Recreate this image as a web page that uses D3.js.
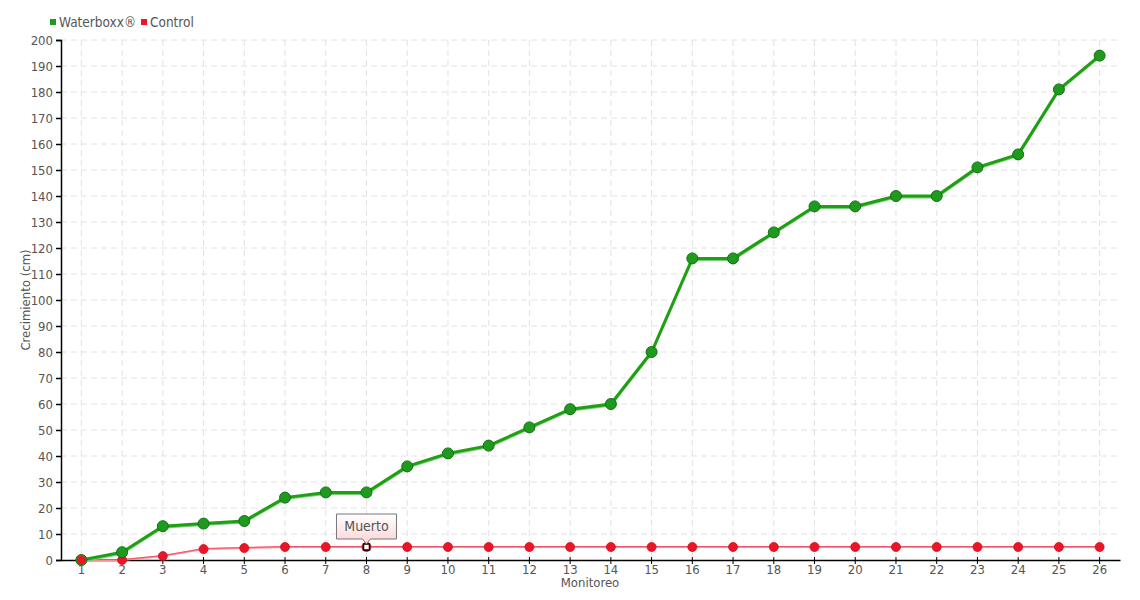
<!DOCTYPE html>
<html><head><meta charset="utf-8">
<script src="https://cdn.jsdelivr.net/npm/d3@7/dist/d3.min.js"></script>
<style>body{margin:0;background:#fff;}svg{display:block;}text{font-family:'DejaVu Sans Condensed','DejaVu Sans',sans-serif;font-stretch:condensed;fill:#555;}</style>
</head><body><svg id="c" width="1140" height="600"></svg>
<script>
const categories = ["1","2","3","4","5","6","7","8","9","10","11","12","13","14","15","16","17","18","19","20","21","22","23","24","25","26"];
const waterboxx = [0,3,13,14,15,24,26,26,36,41,44,51,58,60,80,116,116,126,136,136,140,140,151,156,181,194];
const control = [0,0,1.5,4.2,4.6,5,5,5,5,5,5,5,5,5,5,5,5,5,5,5,5,5,5,5,5,5];
const yTicks = d3.range(0,201,10);
const seriesNames = ["Waterboxx®","Control"];

const svg = d3.select("#c");
const L=61, R=1120, T=40, B=560;
const x = d3.scaleBand().domain(categories).range([L,R]);
const cx = d => x(d)+x.bandwidth()/2;
const y = d3.scaleLinear().domain([0,200]).range([B,T]);
const FS = "13px";

// grid
const g = svg.append("g");
g.selectAll(".hg").data(yTicks.slice(1)).join("line")
  .attr("x1",L).attr("x2",R).attr("y1",d=>y(d)).attr("y2",d=>y(d))
  .attr("stroke","#e2e2e2").attr("stroke-dasharray","6,4");
g.selectAll(".vg").data(categories).join("line")
  .attr("x1",d=>cx(d)).attr("x2",d=>cx(d)).attr("y1",T).attr("y2",B)
  .attr("stroke","#e2e2e2").attr("stroke-dasharray","6,4");

// axes
const ya = svg.append("g").attr("transform",`translate(${L},0)`)
  .call(d3.axisLeft(y).tickValues(yTicks).tickSize(5).tickPadding(3));
ya.select(".domain").attr("stroke","#000").attr("stroke-width",1.5);
ya.selectAll(".tick line").attr("stroke","#000").attr("stroke-width",1.5);
ya.selectAll(".tick text").style("font-size",FS).style("fill","#555");

const xa = svg.append("g").attr("transform",`translate(0,${B})`)
  .call(d3.axisBottom(x).tickSize(4).tickPadding(1).tickSizeOuter(0));
xa.select(".domain").attr("stroke","#000").attr("stroke-width",1.5);
xa.selectAll(".tick line").attr("stroke","#000").attr("y1",-3).attr("stroke-width",1);
xa.selectAll(".tick text").style("font-size",FS).style("fill","#555");

// axis labels
svg.append("text").attr("x",590).attr("y",587).attr("text-anchor","middle").style("font-size",FS).text("Monitoreo");
svg.append("text").attr("transform","translate(30,300) rotate(-90)").attr("text-anchor","middle").style("font-size",FS).text("Crecimiento (cm)");

// control line
const line = d3.line().x((d,i)=>cx(categories[i])).y(d=>y(d));
svg.append("path").datum(control).attr("d",line).attr("fill","none").attr("stroke","#ff8a95").attr("stroke-width",2);
svg.append("path").datum(control).attr("d",line).attr("transform","translate(0,-0.5)").attr("fill","none").attr("stroke","#f0485a").attr("stroke-width",0.8);

// waterboxx line
svg.append("path").datum(waterboxx).attr("d",line).attr("transform","translate(0,1.5)").attr("fill","none").attr("stroke","#7ccc7c").attr("stroke-width",2);
svg.append("path").datum(waterboxx).attr("d",line).attr("fill","none").attr("stroke","#1f9f12").attr("stroke-width",3);

// control points
svg.selectAll(".cp").data(control).join("circle")
  .attr("cx",(d,i)=>cx(categories[i])).attr("cy",d=>y(d)).attr("r",4.5)
  .attr("fill","#ec1427").attr("stroke","#d0101f").attr("stroke-width",0.8);
// waterboxx points
svg.selectAll(".wp").data(waterboxx).join("circle")
  .attr("cx",(d,i)=>cx(categories[i])).attr("cy",d=>y(d)).attr("r",5.5)
  .attr("fill","#1e9b1e").attr("stroke","#137013").attr("stroke-width",1);
svg.append("circle").attr("cx",cx(categories[0])).attr("cy",y(control[0])).attr("r",4.5).attr("fill","#ec1427");

// highlighted point (8)
const hx = cx(categories[7]), hy = y(control[7]);
svg.append("rect").attr("x",hx-3).attr("y",hy-3).attr("width",6).attr("height",6).attr("fill","#fff").attr("stroke","#000").attr("stroke-width",1.5);

// tooltip
const defs = svg.append("defs");
const gr = defs.append("linearGradient").attr("id","tg").attr("x1",0).attr("y1",0).attr("x2",0).attr("y2",1);
gr.append("stop").attr("offset","0").attr("stop-color","#ffffff");
gr.append("stop").attr("offset","1").attr("stop-color","#fbd4d4");
const tw=60, th=25, tx=hx-30, ty=hy-33;
svg.append("path").attr("d",`M${tx},${ty} h${tw} v${th} h-${tw/2-4} l-4,5 l-4,-5 h-${tw/2-4} Z`)
  .attr("fill","url(#tg)").attr("stroke","#777").attr("stroke-width",1);
svg.append("text").attr("x",hx).attr("y",ty+17).attr("text-anchor","middle").style("font-size","14px").style("fill","#555").text("Muerto");

// legend
const colors=["#1e9b1e","#ec1427"];
const lx=[50,141];
seriesNames.forEach((n,i)=>{
  svg.append("rect").attr("x",lx[i]).attr("y",19).attr("width",6).attr("height",6).attr("fill",colors[i]);
  svg.append("text").attr("x",lx[i]+9).attr("y",27).style("font-size","13.5px").style("fill","#555").text(n);
});
</script></body></html>
